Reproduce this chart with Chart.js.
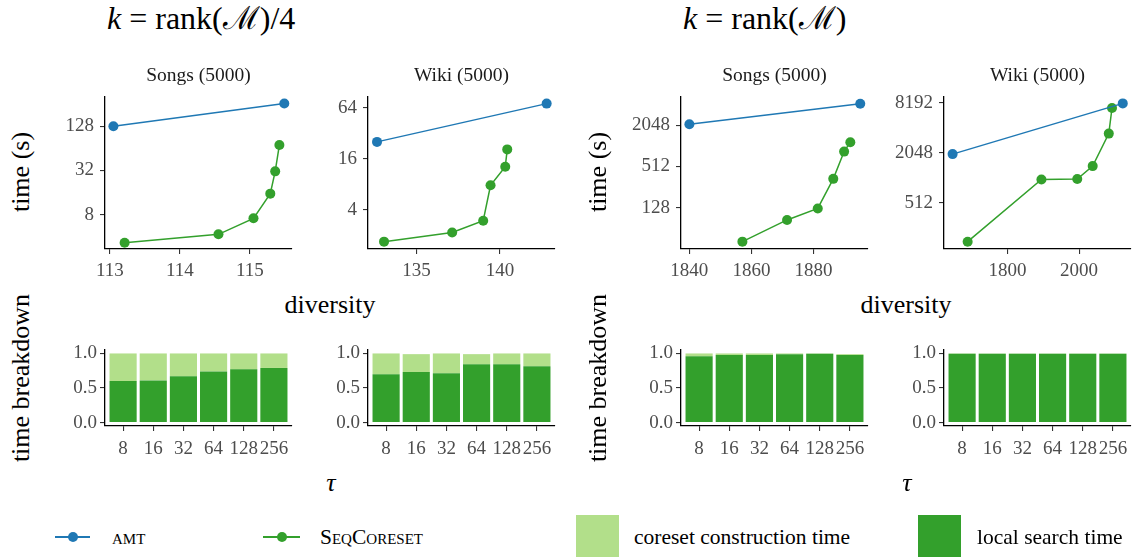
<!DOCTYPE html>
<html><head><meta charset="utf-8">
<script src="https://cdn.jsdelivr.net/npm/chart.js@4"></script>
<style>
body{margin:0;width:1137px;height:557px;background:#fff;position:relative;overflow:hidden;font-family:"Liberation Serif",serif;}
canvas{position:absolute;}
.t{position:absolute;white-space:nowrap;color:#000;line-height:1;}
.c{transform:translate(-50%,-50%);}
.r{transform:translate(-50%,-50%) rotate(-90deg);}
.big{font-size:32px;}
.strip{font-size:19.5px;color:#1a1a1a;}
.ax{font-size:26px;}
.leg{font-size:21.5px;transform:translateY(-50%);}
.sc{font-variant:small-caps;}
.ln{position:absolute;height:2px;}
.dot{position:absolute;width:10px;height:10px;border-radius:50%;}
.box{position:absolute;width:43px;height:42px;}
</style></head><body>

<div class="t big" style="left:107px;top:18px;transform:translateY(-50%)"><i>k</i> = rank(ℳ)/4</div>
<div class="t big" style="left:683px;top:18px;transform:translateY(-50%)"><i>k</i> = rank(ℳ)</div>

<canvas id="c0"></canvas><canvas id="c1"></canvas><canvas id="c2"></canvas><canvas id="c3"></canvas>
<canvas id="b0"></canvas><canvas id="b1"></canvas><canvas id="b2"></canvas><canvas id="b3"></canvas>

<div id="labels"></div>

<div class="ln" style="left:55px;top:536px;width:35px;background:#1f78b4"></div>
<div class="dot" style="left:68px;top:532px;background:#1f78b4"></div>
<div class="t leg sc" style="left:112px;top:538px">amt</div>
<div class="ln" style="left:263px;top:536px;width:37px;background:#33a02c"></div>
<div class="dot" style="left:277px;top:532px;background:#33a02c"></div>
<div class="t leg sc" style="left:320px;top:538px">SeqCoreset</div>
<div class="box" style="left:576px;top:515px;background:#b2df8a"></div>
<div class="t leg" style="left:634px;top:538px">coreset construction time</div>
<div class="box" style="left:918px;top:515px;background:#33a02c"></div>
<div class="t leg" style="left:977px;top:538px">local search time</div>

<script>
// ---- data ----
const panelTitles = ['Songs (5000)', 'Wiki (5000)', 'Songs (5000)', 'Wiki (5000)'];
const tauLabels = ['8', '16', '32', '64', '128', '256'];

// diversity (x) / time in seconds (y)
const songsQ_amt_x = [113.05, 115.49];
const songsQ_amt_y = [128, 260];
const songsQ_seq_x = [113.21, 114.55, 115.05, 115.29, 115.36, 115.42];
const songsQ_seq_y = [3.3, 4.3, 7.1, 15.4, 31, 71];

const wikiQ_amt_x = [132.64, 142.8];
const wikiQ_amt_y = [25.4, 72];
const wikiQ_seq_x = [133.06, 137.14, 139.0, 139.44, 140.32, 140.44];
const wikiQ_seq_y = [1.68, 2.16, 2.97, 7.8, 12.9, 20.7];

const songsF_amt_x = [1840, 1895.1];
const songsF_amt_y = [2120, 4230];
const songsF_seq_x = [1857.1, 1871.5, 1881.4, 1886.4, 1889.9, 1891.9];
const songsF_seq_y = [41, 85, 125, 338, 845, 1160];

const wikiF_amt_x = [1647, 2122];
const wikiF_amt_y = [1980, 8100];
const wikiF_seq_x = [1689, 1895, 1995, 2038, 2083, 2092];
const wikiF_seq_y = [174, 980, 990, 1420, 3500, 7130];

// tick labels
const songsQ_xticks = [113, 114, 115];
const songsQ_yticks = [8, 32, 128];
const wikiQ_xticks = [135, 140];
const wikiQ_yticks = [4, 16, 64];
const songsF_xticks = [1840, 1860, 1880];
const songsF_yticks = [128, 512, 2048];
const wikiF_xticks = [1800, 2000];
const wikiF_yticks = [512, 2048, 8192];
const breakdownTicks = [0, 0.5, 1.0];

// time breakdown fractions
const songsQ_local = [0.60, 0.61, 0.67, 0.74, 0.77, 0.79];
const songsQ_coreset = [0.40, 0.39, 0.33, 0.26, 0.23, 0.21];
const wikiQ_local = [0.70, 0.73, 0.715, 0.845, 0.845, 0.816];
const wikiQ_coreset = [0.30, 0.26, 0.285, 0.145, 0.155, 0.184];
const songsF_local = [0.96, 0.976, 0.976, 0.99, 0.995, 0.976];
const songsF_coreset = [0.04, 0.024, 0.024, 0.01, 0.005, 0.014];
const wikiF_local = [0.995, 0.996, 0.996, 0.996, 0.996, 0.996];
const wikiF_coreset = [0.005, 0.004, 0.004, 0.004, 0.004, 0.004];

// ---- layout ----
const L = [105, 368, 681, 944];
const R = [292, 555, 868, 1131];
const BLUE = '#1f78b4', GREEN = '#33a02c', LIGHT = '#b2df8a';
const YW = 60, XH = 40, PT = 22, PR = 30;

Chart.defaults.font.family = "'Liberation Serif', serif";
Chart.defaults.font.size = 19;
Chart.defaults.color = '#4d4d4d';

function place(cv, l, t, r, b) {
  cv.width = Math.round(r - l) + YW + PR;
  cv.height = Math.round(b - t) + PT + XH;
  cv.style.left = (l - YW) + 'px';
  cv.style.top = (t - PT) + 'px';
}
function axisCommon() {
  return {
    border: { display: true, color: '#000', width: 1.3 },
    grid: { display: true, offset: false, drawOnChartArea: false, drawTicks: true, tickLength: 5, color: '#333', lineWidth: 1.1 },
  };
}

const scatterSets = [
  [songsQ_amt_x, songsQ_amt_y, songsQ_seq_x, songsQ_seq_y, songsQ_xticks, songsQ_yticks, [112.93, 115.6], [2 ** 1.44, 2 ** 8.32]],
  [wikiQ_amt_x, wikiQ_amt_y, wikiQ_seq_x, wikiQ_seq_y, wikiQ_xticks, wikiQ_yticks, [132.1, 143.3], [2 ** 0.46, 2 ** 6.43]],
  [songsF_amt_x, songsF_amt_y, songsF_seq_x, songsF_seq_y, songsF_xticks, songsF_yticks, [1837.3, 1897.6], [2 ** 5.0, 2 ** 12.37]],
  [wikiF_amt_x, wikiF_amt_y, wikiF_seq_x, wikiF_seq_y, wikiF_xticks, wikiF_yticks, [1623, 2145], [2 ** 7.15, 2 ** 13.24]],
];

scatterSets.forEach((s, i) => {
  const cv = document.getElementById('c' + i);
  place(cv, L[i], 97, R[i], 249);
  const [ax, ay, sx, sy, xt, yt, xr, yr] = s;
  const xs = Object.assign(axisCommon(), {
    type: 'linear', min: xr[0], max: xr[1],
    afterBuildTicks: sc => { sc.ticks = xt.map(v => ({ value: v })); },
    afterFit: sc => { sc.height = XH; },
    ticks: { padding: 6, autoSkip: false, maxRotation: 0, callback: v => String(v) },
  });
  const ys = Object.assign(axisCommon(), {
    type: 'logarithmic', min: yr[0], max: yr[1],
    afterBuildTicks: sc => { sc.ticks = yt.map(v => ({ value: v })); },
    afterFit: sc => { sc.width = YW; },
    ticks: { padding: 6, autoSkip: false, callback: v => String(v) },
  });
  new Chart(cv, {
    type: 'line',
    data: {
      datasets: [
        { label: 'amt', data: ax.map((x, k) => ({ x, y: ay[k] })), borderColor: BLUE, backgroundColor: BLUE, borderWidth: 1.5, pointRadius: 5, pointBorderWidth: 0, clip: false },
        { label: 'SeqCoreset', data: sx.map((x, k) => ({ x, y: sy[k] })), borderColor: GREEN, backgroundColor: GREEN, borderWidth: 1.5, pointRadius: 5, pointBorderWidth: 0, clip: false },
      ]
    },
    options: {
      responsive: false, animation: false, devicePixelRatio: 1,
      layout: { padding: { left: 0, top: PT, right: PR, bottom: 0 } },
      plugins: { legend: { display: false }, tooltip: { enabled: false } },
      scales: { x: xs, y: ys },
    }
  });
});

const barSets = [
  [songsQ_local, songsQ_coreset],
  [wikiQ_local, wikiQ_coreset],
  [songsF_local, songsF_coreset],
  [wikiF_local, wikiF_coreset],
];
barSets.forEach((s, i) => {
  const cv = document.getElementById('b' + i);
  place(cv, L[i], 350, R[i], 426);
  const [loc, cor] = s;
  new Chart(cv, {
    type: 'bar',
    data: {
      datasets: [
        { label: 'local search time', data: loc.map((v, k) => ({ x: k + 1, y: v })), backgroundColor: GREEN, borderWidth: 0, categoryPercentage: 0.9, barPercentage: 1 },
        { label: 'coreset construction time', data: cor.map((v, k) => ({ x: k + 1, y: v })), backgroundColor: LIGHT, borderWidth: 0, categoryPercentage: 0.9, barPercentage: 1 },
      ]
    },
    options: {
      responsive: false, animation: false, devicePixelRatio: 1,
      layout: { padding: { left: 0, top: PT, right: PR, bottom: 0 } },
      plugins: { legend: { display: false }, tooltip: { enabled: false } },
      scales: {
        x: Object.assign(axisCommon(), {
          type: 'linear', stacked: true, offset: false, min: 0.4, max: 6.6,
          afterBuildTicks: sc => { sc.ticks = tauLabels.map((t, k) => ({ value: k + 1 })); },
          afterFit: sc => { sc.height = XH; },
          ticks: { padding: 7, autoSkip: false, maxRotation: 0, callback: v => tauLabels[Math.round(v) - 1] },
        }),
        y: Object.assign(axisCommon(), {
          type: 'linear', stacked: true, min: -0.05, max: 1.05,
          afterBuildTicks: sc => { sc.ticks = breakdownTicks.map(v => ({ value: v })); },
          afterFit: sc => { sc.width = YW; },
          ticks: { padding: 3, autoSkip: false, callback: v => v.toFixed(1) },
        }),
      }
    }
  });
});

// ---- text labels ----
const lab = document.getElementById('labels');
function addText(html, cls, x, y) {
  const d = document.createElement('div');
  d.className = 't ' + cls;
  d.style.left = x + 'px'; d.style.top = y + 'px';
  d.innerHTML = html;
  lab.appendChild(d);
}
panelTitles.forEach((t, i) => addText(t, 'strip c', (L[i] + R[i]) / 2, 75));
addText('time (s)', 'ax r', 21, 172);
addText('time (s)', 'ax r', 598, 172);
addText('diversity', 'ax c', 330, 305);
addText('diversity', 'ax c', 906, 305);
addText('time breakdown', 'ax r', 21, 378);
addText('time breakdown', 'ax r', 598, 378);
addText('<i>τ</i>', 'ax c', 331, 483);
addText('<i>τ</i>', 'ax c', 907, 483);
</script>
</body></html>
